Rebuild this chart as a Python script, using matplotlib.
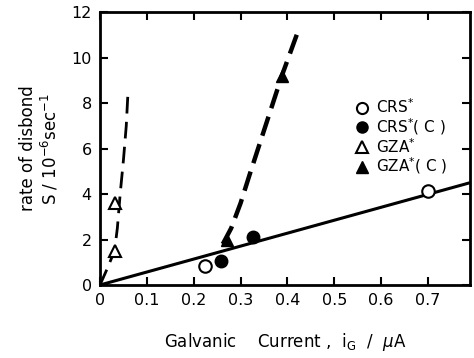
import numpy as np
import matplotlib.pyplot as plt
from matplotlib.lines import Line2D

plt.rcParams['font.family'] = ['DejaVu Sans']

# measured points
crs_x = [0.225, 0.70]
crs_y = [0.82, 4.15]
crsc_x = [0.258, 0.327]
crsc_y = [1.05, 2.1]
gza_x = [0.031, 0.031]
gza_y = [1.5, 3.6]
gzac_x = [0.271, 0.388]
gzac_y = [2.0, 9.2]

# fitted line through CRS points
fit_x = [0.0, 0.79]
fit_y = [0.0, 4.5]

# hand-drawn trend curves
gza_curve_x = [0.0, 0.015, 0.031, 0.037, 0.043, 0.050, 0.056, 0.060]
gza_curve_y = [0.0, 0.7, 1.5, 2.5, 4.0, 5.5, 7.0, 8.6]
gzac_curve_x = [0.262, 0.28, 0.30, 0.32, 0.35, 0.388, 0.425]
gzac_curve_y = [1.8, 2.5, 3.6, 4.9, 6.8, 9.2, 11.3]

fig = plt.figure(figsize=(4.74, 3.58), dpi=100)
ax = fig.add_axes([0.211, 0.204, 0.781, 0.762])

ax.plot(fit_x, fit_y, color='k', lw=2.2, solid_capstyle='butt')
ax.plot(gza_curve_x, gza_curve_y, color='k', lw=2.0, dashes=(6, 3))
ax.plot(gzac_curve_x, gzac_curve_y, color='k', lw=3.2, dashes=(4.5, 2))

ax.plot(crs_x, crs_y, 'o', ms=9, mfc='white', mec='k', mew=1.5)
ax.plot(crsc_x, crsc_y, 'o', ms=9, mfc='k', mec='k')
ax.plot(gza_x, gza_y, '^', ms=8, mfc='white', mec='k', mew=1.5)
ax.plot(gzac_x, gzac_y, '^', ms=9, mfc='k', mec='k')

ax.set_xlim(0, 0.79)
ax.set_ylim(0, 12)
ax.set_xticks(np.arange(0, 0.71, 0.1))
ax.set_xticklabels(['0', '0.1', '0.2', '0.3', '0.4', '0.5', '0.6', '0.7'])
ax.set_yticks(np.arange(0, 13, 2))
ax.tick_params(direction='in', length=6, width=1.5, top=True, right=True,
               labelsize=11.5, pad=6)
for s in ax.spines.values():
    s.set_linewidth(2)

ax.set_xlabel(r'Galvanic    Current ,  i$_{\rm G}$  /  $\mu$A', fontsize=12, labelpad=16)
ax.set_ylabel('rate of disbond\n' + r'S / 10$^{-6}$sec$^{-1}$', fontsize=12,
              labelpad=8, linespacing=1.1)

handles = [
    Line2D([], [], ls='none', marker='o', ms=8, mfc='white', mec='k', mew=1.5),
    Line2D([], [], ls='none', marker='o', ms=8, mfc='k', mec='k'),
    Line2D([], [], ls='none', marker='^', ms=8, mfc='white', mec='k', mew=1.5),
    Line2D([], [], ls='none', marker='^', ms=8, mfc='k', mec='k'),
]
labels = [r'CRS$^{*}$', r'CRS$^{*}$( C )', r'GZA$^{*}$', r'GZA$^{*}$( C )']
ax.legend(handles, labels, loc='upper left', bbox_to_anchor=(0.67, 0.715),
          frameon=False, fontsize=11, handlelength=0.8, handletextpad=0.5,
          labelspacing=0.0, borderpad=0)

plt.savefig('out.png', dpi=100)
